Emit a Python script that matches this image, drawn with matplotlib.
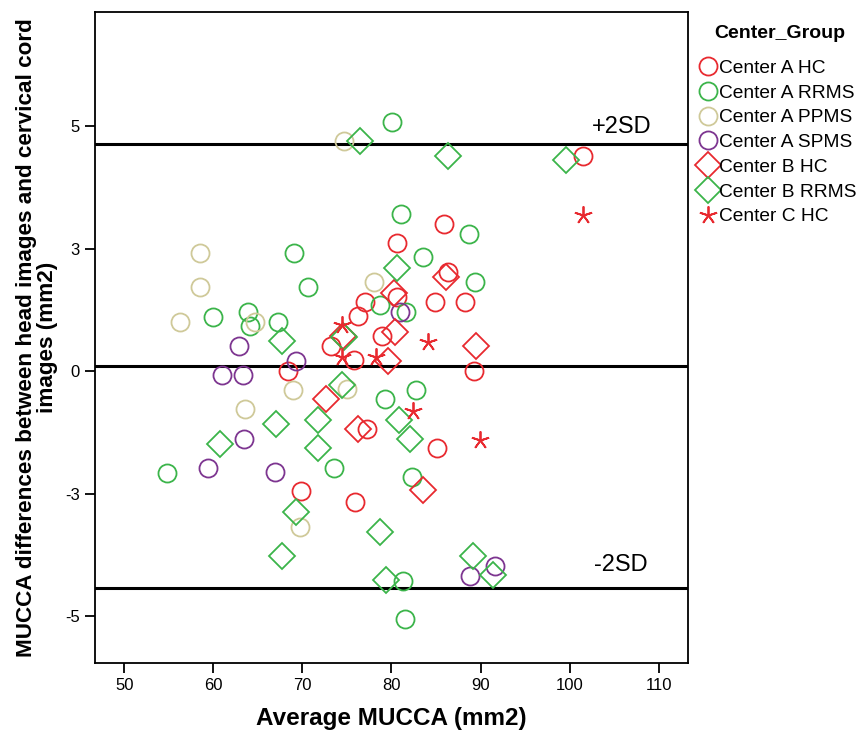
import matplotlib
matplotlib.use("Agg")
import matplotlib.pyplot as plt
from matplotlib.lines import Line2D

plt.rcParams['font.family'] = ['Liberation Sans', 'DejaVu Sans']

# ---- data ----
a_hc_x = [101.48, 85.88, 80.57, 86.36, 84.9, 88.3, 80.57, 77.01, 76.26, 73.17, 75.78, 78.89, 68.41, 89.28, 77.2, 85.13, 69.87, 75.93]
a_hc_y = [4.39, 3.01, 2.61, 2.02, 1.41, 1.41, 1.52, 1.40, 1.12, 0.51, 0.22, 0.71, 0.01, 0.01, -1.18, -1.58, -2.45, -2.68]

a_rrms_x = [80.1, 81.06, 88.69, 83.56, 89.38, 69.08, 70.65, 78.7, 81.6, 59.96, 63.92, 64.14, 67.28, 79.23, 82.78, 73.52, 54.76, 82.3, 81.24, 81.54]
a_rrms_y = [5.09, 3.20, 2.80, 2.32, 1.81, 2.40, 1.71, 1.35, 1.21, 1.11, 1.21, 0.92, 1.01, -0.58, -0.39, -1.98, -2.09, -2.17, -4.28, -5.07]

a_ppms_x = [74.66, 58.53, 58.53, 77.99, 56.25, 64.70, 68.99, 74.96, 63.53, 69.68]
a_ppms_y = [4.70, 2.40, 1.71, 1.81, 1.01, 1.01, -0.39, -0.37, -0.78, -3.18]

a_spms_x = [62.87, 69.30, 60.96, 63.36, 80.94, 63.42, 59.43, 66.86, 88.8, 91.68]
a_spms_y = [0.52, 0.21, -0.09, -0.09, 1.21, -1.38, -1.98, -2.06, -4.18, -3.97]

b_hc_x = [86.15, 80.27, 80.38, 79.6, 89.47, 74.55, 72.62, 76.23, 83.5]
b_hc_y = [1.91, 1.60, 0.80, 0.21, 0.51, 0.72, -0.58, -1.18, -2.43]

b_rrms_x = [76.45, 86.3, 99.65, 80.57, 67.73, 74.66, 74.4, 67.08, 71.7, 71.7, 60.78, 80.83, 82.1, 69.27, 78.73, 67.73, 79.34, 89.17, 91.41]
b_rrms_y = [4.70, 4.39, 4.30, 2.11, 0.61, 0.70, -0.29, -1.08, -0.99, -1.58, -1.48, -0.99, -1.38, -2.87, -3.28, -3.78, -4.27, -3.77, -4.17]

c_hc_x = [101.48, 74.4, 74.4, 78.3, 84.12, 82.4, 89.92]
c_hc_y = [3.19, 0.94, 0.28, 0.29, 0.60, -0.82, -1.41]

mean_diff = 0.10
upper_2sd = 4.63
lower_2sd = -4.42

group_labels = ["Center A HC", "Center A RRMS", "Center A PPMS", "Center A SPMS",
                "Center B HC", "Center B RRMS", "Center C HC"]
xticks = [50, 60, 70, 80, 90, 100, 110]
yticks = [5, 2.5, 0, -2.5, -5]
ytick_labels = ["5", "3", "0", "-3", "-5"]

# ---- style ----
RED = '#E8292F'
GREEN = '#3BB44A'
TAN = '#CFC999'
PURPLE = '#7D3590'
star = (5, 2, 0)

series = [
    (a_hc_x, a_hc_y, 'o', RED, 13),
    (a_rrms_x, a_rrms_y, 'o', GREEN, 13),
    (a_ppms_x, a_ppms_y, 'o', TAN, 13),
    (a_spms_x, a_spms_y, 'o', PURPLE, 13),
    (b_hc_x, b_hc_y, 'D', RED, 12.8),
    (b_rrms_x, b_rrms_y, 'D', GREEN, 12.8),
    (c_hc_x, c_hc_y, star, RED, 13),
]

fig = plt.figure(figsize=(8.62, 7.30), dpi=100)
ax = fig.add_axes([95/862, 67/730, (688-95)/862, (663-12)/730])

handles = []
for (xs, ys, m, c, s), lab in zip(series, group_labels):
    ax.plot(xs, ys, linestyle='none', marker=m, markersize=s,
            markerfacecolor='none', markeredgecolor=c, markeredgewidth=1.3)
    handles.append(Line2D([], [], linestyle='none', marker=m, markersize=s,
                          markerfacecolor='none', markeredgecolor=c,
                          markeredgewidth=1.3, label=lab))

for yv in (upper_2sd, mean_diff, lower_2sd):
    ax.axhline(yv, color='black', linewidth=2.2, zorder=0)

ax.text(105.8, 4.98, "+2SD", fontsize=17, ha='center', va='center')
ax.text(105.8, -3.96, "-2SD", fontsize=17, ha='center', va='center')

ax.set_xlim(46.7, 113.3)
ax.set_ylim(-5.96, 7.33)
ax.set_xticks(xticks)
ax.set_yticks(yticks)
ax.set_yticklabels(ytick_labels)
ax.tick_params(direction='out', length=7, width=1.3, labelsize=12, pad=4)
for sp in ax.spines.values():
    sp.set_linewidth(1.3)

ax.set_xlabel("Average MUCCA (mm2)", fontsize=17.5, fontweight='bold', labelpad=10)
ax.set_ylabel("MUCCA differences between head images and cervical cord\nimages (mm2)",
              fontsize=16.2, fontweight='bold', labelpad=5, linespacing=1.0)

fig.text(780/862, 1 - 34/730, "Center_Group", fontsize=14, fontweight='bold',
         ha='center', va='center')
leg = fig.legend(handles=handles, loc='upper left', bbox_to_anchor=(692/862, 1 - 52/730),
                 frameon=False, fontsize=13.8,
                 handlelength=0.9, handletextpad=0.12, labelspacing=0.38,
                 borderaxespad=0)

fig.savefig("out.png", dpi=100)
